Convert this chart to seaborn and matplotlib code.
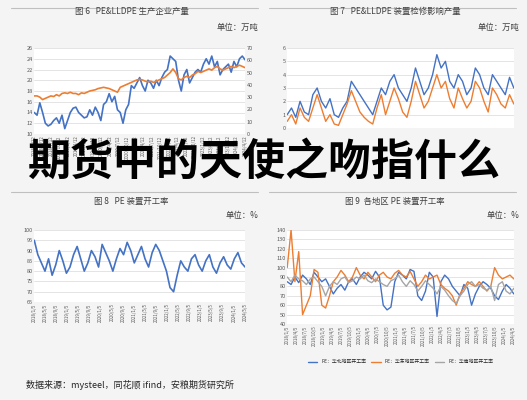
import numpy as np
import pandas as pd
import matplotlib.pyplot as plt
import seaborn as sns

sns.set_style("white")
plt.rcParams['font.family'] = ['Noto Sans CJK SC', 'DejaVu Sans']

BLUE = "#4472C4"
ORANGE = "#ED7D31"
GREY = "#A5A5A5"

# Fig 6: PE&LLDPE production (left axis blue, right axis orange)
pe_output = [14, 13.5, 15.8, 14, 12, 11.5, 11.8, 12.5, 13, 12, 13.5, 11, 12.5, 14, 14.8, 15, 14, 13.5, 13, 13.2,
             14.5, 13.5, 15, 14, 12.5, 15.5, 16, 17.5, 16, 17, 14.5, 14, 12, 14.5, 15.5, 19, 18.5, 19.5, 20.5, 19,
             18, 20, 19.5, 18.5, 20, 19, 20.5, 21.5, 22, 24.5, 24, 23.5, 20, 18, 21, 22, 19.5, 20.5, 21.5, 22,
             21.5, 23, 24, 23, 24.5, 22.5, 23.5, 21, 22, 22.5, 23, 21.5, 23.5, 22.5, 24, 24.5, 23.8]
lldpe_output = [31, 31, 30, 28, 29, 30, 31, 30.5, 32, 31, 33, 33.5, 33, 34, 33, 33, 32, 33.5, 33, 34,
                35, 35.5, 36, 37, 37.5, 38, 37.5, 37, 36, 35, 34, 38, 39, 40, 41, 42, 43, 44, 44.5, 44,
                43, 42.5, 43, 42, 43, 44, 45, 46, 48, 50, 53, 50, 45, 44, 46, 47, 46, 48, 49, 51,
                50, 51, 52, 53, 52, 54, 55, 53, 52, 53, 54, 55, 54, 55, 56, 55, 54]
x6_labels = ["2018/1/12", "2018/4/12", "2018/7/12", "2018/10/12", "2019/1/12", "2019/4/12", "2019/7/12",
             "2019/10/12", "2020/1/12", "2020/4/12", "2020/7/12", "2020/10/12", "2021/1/12", "2021/4/12",
             "2021/7/12", "2021/10/12", "2022/1/12", "2022/4/12", "2022/7/12", "2022/10/12", "2023/1/12",
             "2023/4/12", "2023/7/12", "2023/10/12", "2024/1/12", "2024/4/12"]

# Fig 7: maintenance impact (two series)
maint_a = [1, 1.5, 0.8, 2, 1.2, 1, 2.5, 3, 2, 1.5, 2.2, 1, 0.8, 1.5, 2, 3.5, 3, 2.5, 2, 1.5,
           1, 2, 3, 2.5, 3.5, 4, 3, 2.5, 2, 3, 4.5, 3.5, 2.5, 3, 4, 5.5, 4.5, 5, 3.5, 3,
           4, 3.5, 2.5, 3, 4.5, 4, 3, 2.5, 4, 3.5, 3, 2.5, 3.8, 3]
maint_b = [0.5, 1, 0.3, 1.5, 0.8, 0.5, 1.5, 2.5, 1.5, 0.5, 1, 0.3, 0.2, 1, 1.8, 2.8, 2, 1.2, 0.8, 0.5,
           0.3, 1.5, 2.5, 1, 2, 3, 2.2, 1.2, 0.8, 2, 3.5, 2.5, 1.5, 2, 3, 4, 3, 3.5, 2.2, 1.5,
           3, 2.2, 1.5, 2, 3.5, 3, 2, 1.2, 3, 2.5, 1.8, 1.5, 2.5, 1.8]

# Fig 8: PE operating rate
pe_rate = [95, 88, 84, 80, 86, 78, 83, 90, 85, 79, 82, 88, 92, 86, 80, 84, 90, 87, 82, 93,
           89, 85, 80, 86, 91, 88, 94, 90, 84, 88, 92, 86, 82, 89, 93, 90, 85, 80, 72, 70,
           78, 85, 82, 80, 86, 88, 83, 80, 85, 88, 82, 79, 84, 87, 83, 81, 86, 89, 84, 82]
x8_labels = ["2018/1/5", "2018/5/5", "2018/9/5", "2019/1/5", "2019/5/5", "2019/9/5", "2020/1/5",
             "2020/5/5", "2020/9/5", "2021/1/5", "2021/5/5", "2021/9/5", "2022/1/5", "2022/5/5",
             "2022/9/5", "2023/1/5", "2023/5/5", "2023/9/5", "2024/1/5", "2024/5/5"]

# Fig 9: regional operating rates
north = [85, 82, 90, 84, 92, 88, 82, 95, 90, 85, 88, 80, 72, 78, 82, 76, 85, 88, 82, 90,
         95, 92, 88, 96, 90, 60, 55, 58, 85, 95, 92, 88, 98, 96, 70, 65, 75, 95, 90, 48,
         85, 92, 88, 80, 75, 70, 82, 78, 60, 72, 80, 85, 82, 78, 70, 66, 75, 82, 78, 72]
east = [100, 140, 85, 117, 50, 60, 70, 98, 95, 60, 57, 70, 85, 90, 97, 92, 85, 90, 100, 92,
        88, 95, 90, 85, 92, 95, 90, 88, 94, 97, 92, 90, 96, 88, 80, 85, 92, 88, 90, 92,
        82, 78, 75, 70, 60, 72, 78, 85, 82, 80, 85, 80, 75, 80, 100, 92, 88, 90, 92, 88]
south = [90, 85, 92, 88, 86, 82, 88, 90, 85, 80, 70, 80, 85, 82, 88, 90, 84, 86, 90, 88,
         92, 86, 84, 88, 85, 82, 80, 86, 88, 92, 85, 80, 86, 82, 75, 80, 86, 82, 78, 72,
         80, 76, 70, 65, 62, 70, 75, 82, 85, 80, 82, 78, 76, 80, 65, 82, 85, 75, 72, 78]
x9_labels = ["2018/1/5", "2018/4/5", "2018/7/5", "2018/10/5", "2019/1/5", "2019/4/5", "2019/7/5",
             "2019/10/5", "2020/1/5", "2020/4/5", "2020/7/5", "2020/10/5", "2021/1/5", "2021/4/5",
             "2021/7/5", "2021/10/5", "2022/1/5", "2022/4/5", "2022/7/5", "2022/10/5", "2023/1/5",
             "2023/4/5", "2023/7/5", "2023/10/5", "2024/1/5", "2024/4/5"]

fig = plt.figure(figsize=(5.27, 4.0), dpi=100)
fig.patch.set_facecolor("#f4f4f4")


def style(ax, ylim, yticks, labels, n):
    ax.set_facecolor("white")
    ax.set_ylim(*ylim)
    ax.set_yticks(yticks)
    ax.grid(axis="y", color="#d9d9d9", lw=0.5)
    for s in ax.spines.values():
        s.set_visible(False)
    ax.set_xlim(0, n - 1)
    pos = np.linspace(0, n - 1, len(labels))
    ax.set_xticks(pos)
    ax.set_xticklabels(labels, rotation=90, fontsize=3.2, color="#595959")
    ax.tick_params(axis="y", labelsize=4, colors="#595959", length=0, pad=1)
    ax.tick_params(axis="x", length=0, pad=1)


# panel frames
for x0, y0, w, h in [(0.02, 0.54, 0.47, 0.44), (0.51, 0.54, 0.47, 0.44),
                     (0.02, 0.08, 0.47, 0.44), (0.51, 0.08, 0.47, 0.44)]:
    fig.add_artist(plt.Line2D([x0, x0 + w], [y0 + h, y0 + h], color="#bfbfbf", lw=0.8,
                              transform=fig.transFigure))

# Fig 6
fig.text(0.25, 0.965, "图 6   PE&LLDPE 生产企业产量", ha="center", fontsize=6, color="#404040")
fig.text(0.49, 0.925, "单位：万吨", ha="right", fontsize=6, color="#404040")
ax1 = fig.add_axes([0.065, 0.665, 0.40, 0.215])
n1 = len(pe_output)
sns.lineplot(x=np.arange(n1), y=pe_output, ax=ax1, color=BLUE, lw=1.2)
style(ax1, (10, 26), range(10, 27, 2), x6_labels, n1)
ax1b = ax1.twinx()
sns.lineplot(x=np.arange(len(lldpe_output)), y=lldpe_output, ax=ax1b, color=ORANGE, lw=1.2)
ax1b.set_ylim(0, 70)
ax1b.set_yticks(range(0, 71, 10))
ax1b.tick_params(axis="y", labelsize=4, colors="#595959", length=0, pad=1)
for s in ax1b.spines.values():
    s.set_visible(False)

# Fig 7
fig.text(0.75, 0.965, "图 7   PE&LLDPE 装置检修影响产量", ha="center", fontsize=6, color="#404040")
fig.text(0.985, 0.925, "单位：万吨", ha="right", fontsize=6, color="#404040")
ax2 = fig.add_axes([0.545, 0.68, 0.43, 0.20])
n2 = len(maint_a)
sns.lineplot(x=np.arange(n2), y=maint_a, ax=ax2, color=BLUE, lw=1.0)
sns.lineplot(x=np.arange(n2), y=maint_b, ax=ax2, color=ORANGE, lw=1.0)
style(ax2, (0, 6), range(0, 7, 1), [], n2)
ax2.set_xticks([])

# Fig 8
fig.text(0.25, 0.49, "图 8   PE 装置开工率", ha="center", fontsize=6, color="#404040")
fig.text(0.49, 0.455, "单位：%", ha="right", fontsize=6, color="#404040")
ax3 = fig.add_axes([0.065, 0.245, 0.40, 0.18])
n3 = len(pe_rate)
sns.lineplot(x=np.arange(n3), y=pe_rate, ax=ax3, color=BLUE, lw=1.2)
style(ax3, (65, 100), range(65, 101, 5), x8_labels, n3)

# Fig 9
fig.text(0.75, 0.49, "图 9  各地区 PE 装置开工率", ha="center", fontsize=6, color="#404040")
fig.text(0.985, 0.455, "单位：%", ha="right", fontsize=6, color="#404040")
ax4 = fig.add_axes([0.545, 0.19, 0.43, 0.235])
n4 = len(north)
sns.lineplot(x=np.arange(n4), y=north, ax=ax4, color=BLUE, lw=1.0, label="PE：华北地区开工率")
sns.lineplot(x=np.arange(n4), y=east, ax=ax4, color=ORANGE, lw=1.0, label="PE：华东地区开工率")
sns.lineplot(x=np.arange(n4), y=south, ax=ax4, color=GREY, lw=1.0, label="PE：华南地区开工率")
style(ax4, (40, 140), range(40, 141, 10), x9_labels, n4)
ax4.legend(loc="upper center", bbox_to_anchor=(0.5, -0.33), ncol=3, fontsize=3.5, frameon=False,
           handlelength=2, columnspacing=1)

# overlay headline (drawn over the charts, as in the reference)
fig.text(0.5, 0.595, "期货中的天使之吻指什么", ha="center", va="center", fontsize=31,
         fontweight="bold", color="black")

fig.text(0.05, 0.03, "数据来源：mysteel，同花顺 ifind，安粮期货研究所", fontsize=6.5, color="#262626")

fig.savefig("out.png", dpi=100)
